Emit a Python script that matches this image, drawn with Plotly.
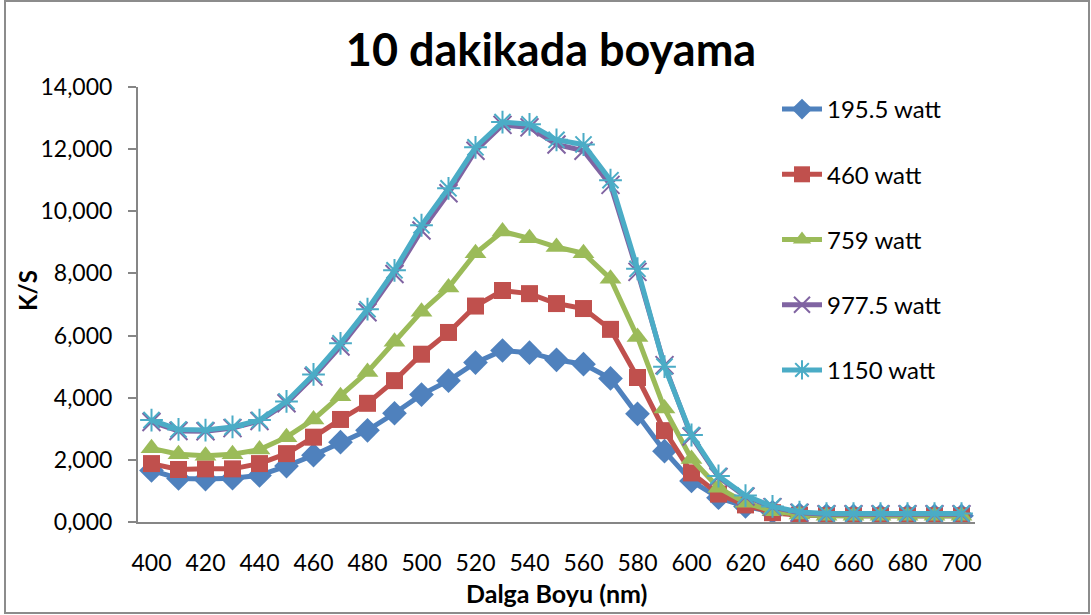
import plotly.graph_objects as go

# Wavelength grid (nm) and K/S values for each microwave power level
wavelengths = list(range(400, 701, 10))

ks_195_5 = [1.66, 1.40, 1.38, 1.41, 1.50, 1.80, 2.15, 2.57, 2.95, 3.50, 4.10,
            4.55, 5.13, 5.52, 5.45, 5.22, 5.08, 4.62, 3.48, 2.28, 1.32,
            0.78, 0.50, 0.32, 0.24, 0.21, 0.20, 0.20, 0.20, 0.20, 0.20]
ks_460 = [1.88, 1.69, 1.71, 1.71, 1.88, 2.20, 2.73, 3.30, 3.82, 4.55, 5.40,
          6.10, 6.95, 7.45, 7.35, 7.03, 6.87, 6.20, 4.65, 2.94, 1.58,
          0.90, 0.55, 0.30, 0.22, 0.20, 0.20, 0.20, 0.20, 0.20, 0.20]
ks_759 = [2.37, 2.18, 2.13, 2.18, 2.33, 2.73, 3.30, 4.05, 4.83, 5.80, 6.77,
          7.55, 8.65, 9.35, 9.13, 8.85, 8.65, 7.83, 5.95, 3.65, 2.03,
          1.10, 0.62, 0.35, 0.24, 0.20, 0.20, 0.20, 0.20, 0.20, 0.20]
ks_977_5 = [3.22, 2.93, 2.92, 3.02, 3.25, 3.82, 4.68, 5.65, 6.75, 7.98, 9.38,
            10.58, 11.95, 12.78, 12.70, 12.15, 11.95, 10.85, 8.05, 5.05, 2.75,
            1.45, 0.82, 0.48, 0.30, 0.25, 0.25, 0.25, 0.25, 0.25, 0.25]
ks_1150 = [3.28, 2.98, 2.96, 3.06, 3.28, 3.88, 4.75, 5.75, 6.85, 8.10, 9.55,
           10.74, 12.06, 12.87, 12.80, 12.30, 12.15, 11.00, 8.15, 5.00, 2.80,
           1.48, 0.85, 0.50, 0.32, 0.27, 0.27, 0.27, 0.27, 0.27, 0.27]

series_names = ["195.5 watt", "460 watt", "759 watt", "977.5 watt", "1150 watt"]
series_values = [ks_195_5, ks_460, ks_759, ks_977_5, ks_1150]
colors = ["#4F81BD", "#C0504D", "#9BBB59", "#8064A2", "#4BACC6"]
symbols = ["diamond", "square", "triangle-up", "x-thin", "asterisk"]
marker_sizes = [19, 17, 19, 18, 19]

x_ticks = list(range(400, 701, 20))
y_ticks = list(range(0, 15, 2))

FONT = "Lato, 'Open Sans', sans-serif"
W, H = 1091, 615
L, R, T, B = 138, 116, 87, 93

fig = go.Figure()
for i, (name, vals) in enumerate(zip(series_names, series_values)):
    thin = symbols[i] in ("x-thin", "asterisk")
    fig.add_trace(go.Scatter(
        x=wavelengths, y=vals, name=name, mode="lines+markers",
        legendgroup=name,
        line=dict(color=colors[i], width=5),
        marker=dict(symbol=symbols[i], size=marker_sizes[i], color=colors[i],
                    line=dict(color=colors[i], width=2 if thin else 0)),
    ))

pw = W - L - R
ph = H - T - B

def px(xp):
    return (xp - L) / pw

def py(yp):
    return (H - B - yp) / ph

fig.update_layout(
    width=W, height=H,
    margin=dict(l=L, r=R, t=T, b=B),
    paper_bgcolor="white", plot_bgcolor="white",
    separators=",.",
    font=dict(family=FONT, size=23, color="#000000"),
    title=dict(text="<b>10 dakikada boyama</b>", x=551 / W, xanchor="center",
               y=1 - 50 / H, yanchor="middle",
               font=dict(family=FONT, size=45, color="#000000")),
    showlegend=True,
    legend=dict(x=px(777), y=py(87), xanchor="left", yanchor="top",
                bgcolor="rgba(0,0,0,0)", tracegroupgap=31,
                font=dict(family=FONT, size=24, color="#000000"),
                itemwidth=40),
    xaxis=dict(range=[395, 705], tickvals=x_ticks, ticks="", showgrid=False,
               zeroline=False, showline=True, linecolor="#868686", linewidth=2,
               ticklabelstandoff=19, tickfont=dict(size=23)),
    yaxis=dict(range=[0, 14], tickvals=y_ticks, tickformat=".3f",
               ticks="outside", ticklen=8, tickcolor="#868686", tickwidth=1.5,
               showgrid=False, zeroline=False, showline=True,
               linecolor="#868686", linewidth=2,
               ticklabelstandoff=11, tickfont=dict(size=23)),
    annotations=[
        dict(text="<b>K/S</b>", xref="paper", yref="paper",
             x=px(27), y=py(291), xanchor="center", yanchor="middle",
             textangle=-90, showarrow=False,
             font=dict(family=FONT, size=24, color="#000000")),
        dict(text="<b>Dalga Boyu (nm)</b>", xref="paper", yref="paper",
             x=px(556), y=py(593), xanchor="center", yanchor="middle",
             showarrow=False,
             font=dict(family=FONT, size=25, color="#000000")),
    ],
    shapes=[
        dict(type="rect", xref="paper", yref="paper",
             x0=px(5), x1=px(1089), y0=py(613), y1=py(1),
             line=dict(color="#8C8C8C", width=2), fillcolor="rgba(0,0,0,0)",
             layer="below"),
    ],
)

fig.write_html("out.html")
